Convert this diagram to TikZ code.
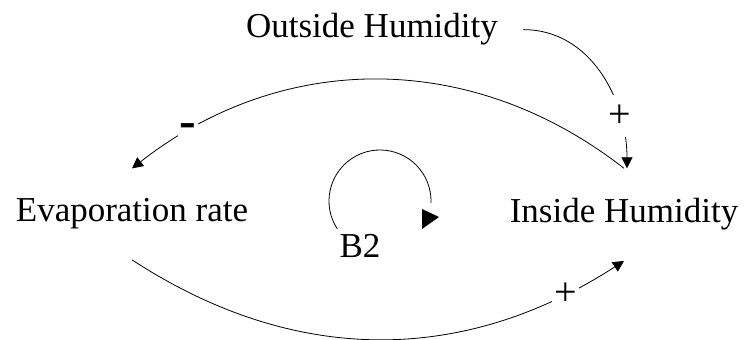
\documentclass[tikz,border=0pt]{standalone}
\usepackage{fontspec}
\setmainfont{Liberation Serif}
\usetikzlibrary{arrows.meta}

\begin{document}
\begin{tikzpicture}[x=1pt,y=1pt,line width=0.8pt,
    >={Triangle[length=11pt,width=11pt]},
    var/.style={anchor=base,inner xsep=25pt,inner ysep=30pt,font=\fontsize{35}{42}\selectfont},
    sign/.style={fill=white,inner sep=2pt,font=\fontsize{40}{46}\selectfont}]
        \useasboundingbox (0,0) rectangle (745,340);
        \node[var] (outside) at (372,302) {Outside Humidity};
        \node[var] (evap) at (132,118) {Evaporation rate};
        \node[var] (inside) at (624,117) {Inside Humidity};
        \node[anchor=base,font=\fontsize{35}{42}\selectfont] (b2) at (360,82) {B2};
        \draw [->] (outside.east) to[out=0,in=90] node[sign,pos=0.74,inner ysep=10pt] {+} ([xshift=3pt]inside.north);
        \draw [->] (inside.north) to[bend right=38] node[sign,pos=0.88,font=\fontsize{50}{52}\selectfont\bfseries] {-} (evap.north);
        \draw [->] (evap.south) to[bend right=33] node[sign,pos=0.88] {+} (inside.south);
        \coordinate (loop) at (380,139);
        \draw (loop) ++(213:51) arc [start angle=213,end angle=-2,radius=51];
        \fill (422,131) -- (422,111) -- (439,123) -- cycle;
        \end{tikzpicture}
\end{document}
